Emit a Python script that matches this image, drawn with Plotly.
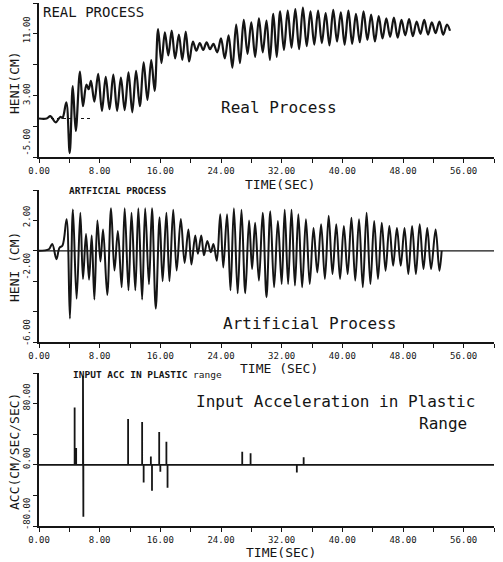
import plotly.graph_objects as go

# ---------------- data ----------------
# Panel 1: real process (extrema of the oscillation), time in s, HENI in cm
real_t = [0.0, 1.0, 1.5, 2.2, 2.8, 3.1, 3.6, 4.05, 4.45, 4.85, 5.4, 5.8, 6.25, 6.55, 6.85,
          7.3, 7.8, 8.3, 8.8, 9.3, 9.8, 10.3, 10.8, 11.3, 11.8, 12.3, 12.8, 13.3, 13.8, 14.3, 14.8,
          15.25, 15.7, 16.15, 16.6, 17.05, 17.5, 17.95, 18.45, 18.9, 19.35, 19.8,
          20.3, 20.75, 21.2, 21.65, 22.1, 22.55, 23.0,
          23.5, 24.0, 24.5, 25.0, 25.5, 26.0, 26.5, 27.0, 27.5, 28.0, 28.5, 29.0, 29.5, 30.0,
          30.45, 30.9, 31.35, 31.8,
          32.3, 32.8, 33.3, 33.8, 34.3, 34.8, 35.3, 35.8, 36.3, 36.8, 37.3, 37.8, 38.3, 38.8,
          39.3, 39.8, 40.3, 40.8, 41.3, 41.8, 42.3, 42.8, 43.3, 43.8, 44.3, 44.8, 45.3, 45.8,
          46.3, 46.8, 47.3, 47.8, 48.3, 48.8, 49.3, 49.8, 50.3, 50.8, 51.3, 51.8, 52.3, 52.8,
          53.3, 53.8, 54.2]
real_v = [0.0, 0.0, 0.3, -0.5, 0.2, 0.1, 2.1, -4.5, 4.2, -1.6, 6.1, 1.6, 4.4, 3.8, 4.9,
          2.2, 5.8, 1.0, 5.4, 1.2, 5.7, 1.0, 5.3, 1.1, 6.0, 0.8, 6.2, 1.6, 7.3, 2.4, 7.6,
          3.6, 11.6, 7.2, 11.2, 8.2, 11.4, 7.8, 10.9, 7.6, 11.3, 7.4,
          10.0, 8.8, 9.8, 8.9, 9.9, 9.0, 9.7,
          8.6, 10.4, 7.8, 10.8, 6.6, 12.2, 7.2, 12.8, 8.4, 12.5, 8.0, 13.0, 8.6, 12.7,
          7.6, 13.6, 8.0, 13.9,
          8.9, 14.0, 9.2, 14.2, 9.0, 14.4, 9.4, 13.9, 9.6, 14.0, 9.8, 13.7, 9.5, 14.1,
          10.0, 13.8, 9.6, 14.0, 9.7, 13.6, 9.9, 13.9, 10.2, 13.5, 10.0, 13.3, 10.4, 13.0,
          10.6, 13.1, 10.5, 12.8, 10.8, 12.9, 10.7, 12.6, 11.0, 12.8, 10.9, 12.5, 11.1, 12.6,
          10.9, 12.2, 11.4]
real_ref_t = [0.0, 7.0]
real_ref_v = [0.0, 0.0]

# Panel 2: artificial process
art_t = [0.0, 1.3, 1.75, 2.3, 2.7, 3.1, 3.64, 4.08, 4.47, 4.96, 5.45, 5.8,
         6.2, 6.6, 6.95, 7.3, 7.7, 8.1, 8.45,
         9.0, 9.5, 9.95, 10.4, 10.9, 11.3, 11.8, 12.2, 12.7, 13.1, 13.6, 14.0, 14.5, 14.9,
         15.4, 15.9, 16.3, 16.8, 17.2, 17.7, 18.15, 18.7, 19.2, 19.7, 20.1, 20.6, 20.95,
         21.4, 21.75, 22.2, 22.65, 23.0, 23.45, 23.9, 24.3, 24.8, 25.25, 25.7, 26.2, 26.7,
         27.2, 27.7, 28.1,
         28.5, 29.0, 29.5, 30.0, 30.5, 31.0, 31.5, 32.0, 32.4, 32.85, 33.3, 33.75, 34.2, 34.7,
         35.2, 35.7, 36.2, 36.7, 37.2, 37.7, 38.2, 38.7, 39.2, 39.7, 40.2, 40.7, 41.2, 41.7,
         42.2, 42.7, 43.2, 43.7, 44.2, 44.7, 45.2, 45.7, 46.2, 46.7, 47.2, 47.7, 48.2, 48.7,
         49.2, 49.7, 50.2, 50.7, 51.2, 51.7, 52.3, 52.8, 53.1]
art_v = [0.0, 0.1, 0.45, -0.55, 0.2, 0.35, 2.07, -4.46, 2.72, -3.16, 2.5, -1.85,
         1.1, -1.9, 1.0, -3.2, 2.0, -0.7, 1.4,
         -2.9, 2.8, -1.3, 1.3, -2.4, 2.8, -2.6, 2.5, -2.6, 2.8, -3.2, 2.8, -2.2, 2.8,
         -3.8, 2.2, -2.0, 2.5, -2.0, 2.7, -1.3, 2.1, -0.8, 1.4, -0.9, 1.0, -0.2,
         1.0, -0.3, 0.65, -0.1, 0.45, -0.65, 2.4, -1.1, 2.4, -2.6, 2.8, -2.8, 2.7,
         -2.8, 2.0, -1.2,
         1.85, -1.96, 2.5, -3.05, 2.6, -2.4, 1.96, -2.18, 2.7, -2.18, 2.7, -2.29, 2.4, -2.4,
         2.07, -2.18, 1.5, -1.42, 1.74, -1.85, 2.3, -1.53, 1.74, -1.85, 1.63, -1.53, 2.18, -1.96,
         2.07, -2.4, 2.5, -2.18, 1.96, -1.85, 1.85, -1.31, 1.63, -0.98, 1.5, -0.98, 1.5, -1.53,
         1.63, -1.53, 1.74, -1.2, 1.5, -1.2, 1.4, -1.31, 0.0]
art_zero_t = [0.0, 60.0]
art_zero_v = [0.0, 0.0]

# Panel 3: input acceleration spikes (time s, value cm/s^2)
acc_t = [4.7, 4.9, 5.8, 5.85, 11.75, 13.6, 13.8, 14.75, 14.9, 15.85, 16.0, 16.8, 16.95,
         26.8, 27.9, 34.0, 34.9]
acc_v = [75, 22, 116, -68, 60, 56, -23, 11, -34, 43, -9, 30, -30,
         17, 15, -10, 10]
acc_span = [0.0, 60.0]

# Axis ticks
x_ticks = [0, 4, 8, 12, 16, 20, 24, 28, 32, 36, 40, 44, 48, 52, 56, 60]
x_labels = ["0.00", "", "8.00", "", "16.00", "", "24.00", "", "32.00", "",
            "40.00", "", "48.00", "", "56.00", ""]
y1_ticks = [-5, -1, 3, 7, 11, 15]
y1_labels = ["-5.00", "", "3.00", "", "11.00", ""]
y2_ticks = [-6, -4, -2, 0, 2, 4]
y2_labels = ["-6.00", "", "-2.00", "", "2.00", ""]
y3_ticks = [-80, -40, 0, 40, 80, 120]
y3_labels = ["-80.00", "", "0.00", "", "80.00", ""]

# ---------------- figure ----------------
W, H = 503, 562
INK = "#151515"
MONO = "DejaVu Sans Mono"
NB = "\u00a0"


def pad(label, n):
    return (NB * n + label) if label else label


def fx(p):
    return p / W


def fy(p):
    return 1 - p / H


# build spike polyline from spike lists
acc_x = [acc_span[0]]
acc_y = [0.0]
for t, v in zip(acc_t, acc_v):
    acc_x += [t, t, t]
    acc_y += [0.0, v, 0.0]
acc_x.append(acc_span[1])
acc_y.append(0.0)

fig = go.Figure()
fig.add_trace(go.Scatter(x=real_ref_t, y=real_ref_v, xaxis="x", yaxis="y", mode="lines",
                         line=dict(color=INK, width=1, dash="dot"), hoverinfo="skip"))
fig.add_trace(go.Scatter(x=real_t, y=real_v, xaxis="x", yaxis="y", mode="lines",
                         line=dict(color=INK, width=2.2, shape="spline", smoothing=1.0)))
fig.add_trace(go.Scatter(x=art_zero_t, y=art_zero_v, xaxis="x2", yaxis="y2", mode="lines",
                         line=dict(color=INK, width=1.3)))
fig.add_trace(go.Scatter(x=art_t, y=art_v, xaxis="x2", yaxis="y2", mode="lines",
                         line=dict(color=INK, width=2.0, shape="spline", smoothing=1.0)))
fig.add_trace(go.Scatter(x=acc_x, y=acc_y, xaxis="x3", yaxis="y3", mode="lines",
                         line=dict(color=INK, width=1.8)))

xdom = [fx(39), fx(494)]
common_x = dict(domain=xdom, range=[0, 60], showline=True, linecolor=INK, linewidth=1.6,
                ticks="outside", ticklen=4, tickwidth=1.3, tickcolor=INK, automargin=False,
                tickvals=x_ticks, ticktext=x_labels, showgrid=False, zeroline=False,
                tickfont=dict(family=MONO, size=9, color=INK))
common_y = dict(showline=True, linecolor=INK, linewidth=1.6, ticks="outside", ticklen=4,
                tickwidth=1.3, tickcolor=INK, showgrid=False, zeroline=False, tickangle=-90,
                automargin=False, tickfont=dict(family=MONO, size=9, color=INK))

fig.update_layout(
    width=W, height=H, autosize=False,
    margin=dict(l=0, r=0, t=0, b=0, pad=0),
    paper_bgcolor="white", plot_bgcolor="white",
    showlegend=False,
    xaxis=dict(common_x, anchor="y"),
    xaxis2=dict(common_x, anchor="y2"),
    xaxis3=dict(common_x, anchor="y3"),
    yaxis=dict(common_y, anchor="x", domain=[fy(157), fy(3)], range=[-5, 15],
               tickvals=y1_ticks,
               ticktext=[pad(y1_labels[0], 5), "", y1_labels[2], "", pad(y1_labels[4], 1), ""]),
    yaxis2=dict(common_y, anchor="x2", domain=[fy(342), fy(190)], range=[-6, 4],
                tickvals=y2_ticks,
                ticktext=[pad(y2_labels[0], 3), "", pad(y2_labels[2], 5), "", pad(y2_labels[4], 1), ""]),
    yaxis3=dict(common_y, anchor="x3", domain=[fy(526), fy(373)], range=[-80, 120],
                tickvals=y3_ticks,
                ticktext=[pad(y3_labels[0], 4), "", pad(y3_labels[2], 2), "", pad(y3_labels[4], 2), ""]),
)


def ann(text, xp, yp, size, xanchor="left", angle=0):
    fig.add_annotation(text=text, x=fx(xp), y=fy(yp), xref="paper", yref="paper",
                       xanchor=xanchor, yanchor="middle", showarrow=False, textangle=angle,
                       font=dict(family=MONO, size=size, color=INK))


# panel titles
ann("REAL PROCESS", 41, 12, 14)
ann("<b>ARTFICIAL PROCESS</b>", 67, 191, 9.5)
ann("<b>INPUT ACC IN PLASTIC</b> range", 71, 374, 9.5)
# big labels
ann("Real Process", 219, 107, 16)
ann("Artificial Process", 221, 323, 16)
ann("Input Acceleration in Plastic", 194, 401, 16)
ann("Range", 417, 423, 16)
# axis titles
ann("TIME(SEC)", 280, 184, 13, "center")
ann("TIME (SEC)", 279, 368, 13, "center")
ann("TIME(SEC)", 281, 552, 13, "center")
ann("HENI(CM)", 14, 83, 13, "center", -90)
ann("HENI (CM)", 14, 267, 13, "center", -90)
ann("ACC(CM/SEC/SEC)", 14, 452, 13, "center", -90)

fig.write_html(
    "out.html",
    config={"responsive": False, "displayModeBar": False},
    post_script="document.documentElement.style.margin='0';"
                "document.body.style.margin='0';"
                "document.body.style.overflow='hidden';"
                "document.documentElement.style.overflow='hidden';",
)
